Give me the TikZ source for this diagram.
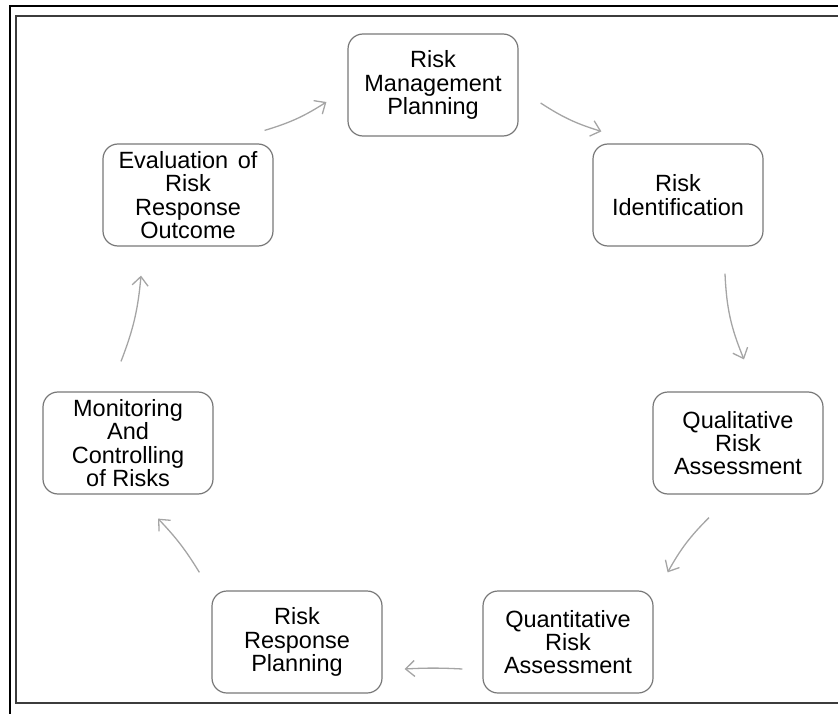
\documentclass[tikz,border=0pt]{standalone}
\usepackage{fontspec}
\setmainfont{Liberation Sans}
\usetikzlibrary{arrows.meta,calc}

\definecolor{boxline}{RGB}{120,120,120}
\definecolor{flowline}{RGB}{165,165,165}
\definecolor{textcol}{RGB}{0,0,0}
\definecolor{frameinner}{RGB}{60,60,60}

\tikzset{
  stage/.style={draw=boxline, line width=1.2pt, rounded corners=15pt,
    minimum width=170pt, minimum height=102pt, inner sep=0pt,
    align=center, text=textcol,
    font=\fontsize{23.5pt}{23.3pt}\selectfont},
  flow/.style={draw=flowline, line width=1.3pt,
    -{Straight Barb[length=9pt,width=16pt,line width=1.3pt]}},
}

\begin{document}
\begin{tikzpicture}[x=1pt,y=-1pt]
  \useasboundingbox (0,0) rectangle (838,714);

  % double page frame, running off the right and bottom edges
  \begin{scope}
    \clip (0,0) rectangle (838,714);
    \draw[black, line width=2pt] (10,6) rectangle (860,740);
    \draw[frameinner, line width=1.3pt] (16,16) rectangle (860,703);
  \end{scope}

  % process stages
  \node[stage] (rmp)  at (433,85)  {Risk\\Management\\Planning};
  \node[stage] (ri)   at (678,195) {Risk\\Identification};
  \node[stage] (qlra) at (738,443) {Qualitative\\Risk\\Assessment};
  \node[stage] (qnra) at (568,642) {Quantitative\\Risk\\Assessment};
  \node[stage] (rrp)  at (297,642) {Risk\\Response\\Planning};
  \node[stage] (mcr)  at (128,443) {Monitoring\\And\\Controlling\\of Risks};
  \node[stage] (erro) at (188,195) {Evaluation\hspace{3pt} of\\Risk\\Response\\Outcome};

  % cycle connectors
  \draw[flow] ($(erro.north east)+(-9,-13)$) to[bend right=8] ($(rmp.west)+(-21,17)$);
  \draw[flow] ($(rmp.east)+(22,18)$) to[bend right=8] ($(ri.north west)+(9,-12)$);
  \draw[flow] ($(ri.south)+(47,27)$) to[bend right=10] ($(qlra.north)+(6,-32)$);
  \draw[flow] ($(qlra.south)+(-29,23)$) to[bend right=8] ($(qnra.north east)+(14,-18)$);
  \draw[flow] ($(qnra.west)+(-20,27)$) to[bend right=3] ($(rrp.east)+(22,27)$);
  \draw[flow] ($(rrp.north west)+(-12,-18)$) to[bend right=6] ($(mcr.south)+(30,24)$);
  \draw[flow] ($(mcr.north)+(-7,-30)$) to[bend right=8] ($(erro.south)+(-47,29)$);
\end{tikzpicture}
\end{document}
